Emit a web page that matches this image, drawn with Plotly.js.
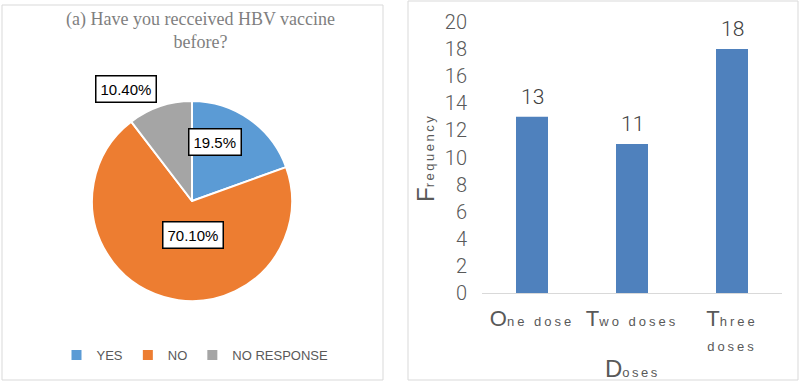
<!DOCTYPE html>
<html><head><meta charset="utf-8">
<script src="https://cdn.plot.ly/plotly-3.0.1.min.js"></script>
<style>html,body{margin:0;padding:0;background:#fff}#c{width:800px;height:382px}</style>
</head><body><div id="c"></div>
<script>
// Pie data
const pieLabels = ['YES', 'NO', 'NO RESPONSE'];
const pieValues = [19.5, 70.1, 10.4];
const pieTexts = ['19.5%', '70.10%', '10.40%'];
const pieColors = ['#5B9BD5', '#ED7D31', '#A5A5A5'];
// Bar data
const doseCats = ['One dose', 'Two doses', 'Three doses'];
const doseTickText = [
  "<span style='font-size:22px'>O</span><span style='font-size:13px;letter-spacing:3px'>ne dose</span>",
  "<span style='font-size:22px'>T</span><span style='font-size:13px;letter-spacing:3px'>wo doses</span>",
  "<span style='font-size:22px'>T</span><span style='font-size:13px;letter-spacing:3px'>hree</span><br><span style='font-size:13px;letter-spacing:3px'>doses</span>"
];
const doseFreq = [13, 11, 18];

const W = 800, H = 382;
const px = x => x / W;
const py = y => 1 - y / H;

const traces = [
  {
    type: 'pie', labels: pieLabels, values: pieValues,
    marker: {colors: pieColors, line: {color: '#fff', width: 2}},
    textinfo: 'none', sort: false, direction: 'clockwise', rotation: 0,
    domain: {x: [px(92), px(292)], y: [py(301), py(101)]},
    hoverinfo: 'label+percent', showlegend: true
  },
  {
    type: 'bar', x: doseCats, y: doseFreq, xaxis: 'x', yaxis: 'y',
    marker: {color: '#4F81BD'}, width: 0.32,
    showlegend: false
  }
];

const annFont = {family: 'Liberation Sans, Arial, sans-serif', size: 15, color: '#000'};
const boxAnn = (t, x, y) => ({
  text: t, x: px(x), y: py(y), xref: 'paper', yref: 'paper', showarrow: false,
  font: annFont, bordercolor: '#000', borderwidth: 1.5, borderpad: 4, bgcolor: '#fff',
  xanchor: 'center', yanchor: 'middle'
});

const barLabels = doseCats.map((c, i) => ({
  text: String(doseFreq[i]), x: c, y: doseFreq[i], xref: 'x', yref: 'y',
  showarrow: false, xanchor: 'center', yanchor: 'bottom', yshift: 6,
  font: {family: 'Roboto, Liberation Sans, sans-serif', size: 21, color: '#404040', weight: 300}
}));

const layout = {
  width: W, height: H, margin: {l: 0, r: 0, t: 0, b: 0},
  paper_bgcolor: '#fff', plot_bgcolor: 'rgba(0,0,0,0)',
  showlegend: true,
  legend: {
    orientation: 'h', x: px(195), xanchor: 'center', y: py(355), yanchor: 'middle',
    font: {family: 'Liberation Sans, Arial, sans-serif', size: 13, color: '#595959'},
    itemwidth: 30
  },
  xaxis: {
    domain: [px(482), px(782)], type: 'category',
    tickvals: doseCats, ticktext: doseTickText,
    tickfont: {family: 'Liberation Sans, Arial, sans-serif', size: 19, color: '#595959', weight: 300},
    showline: true, linecolor: '#D9D9D9', linewidth: 1, ticks: '', showgrid: false,
    ticklabelstandoff: 9, fixedrange: true
  },
  yaxis: {
    domain: [py(293), py(22)], range: [0, 20], dtick: 2, tick0: 0,
    showgrid: false, zeroline: false, showline: false, ticks: '',
    tickfont: {family: 'Roboto, Liberation Sans, sans-serif', size: 20, color: '#595959', weight: 300},
    ticklabelstandoff: 14, fixedrange: true
  },
  shapes: [
    {type: 'rect', xref: 'paper', yref: 'paper', x0: px(2), x1: px(383), y0: py(380), y1: py(5),
     line: {color: '#D9D9D9', width: 1}},
    {type: 'rect', xref: 'paper', yref: 'paper', x0: px(408), x1: px(798), y0: py(380), y1: py(1),
     line: {color: '#D9D9D9', width: 1}}
  ],
  annotations: [
    {text: '(a) Have you recceived HBV vaccine<br>before?', x: px(200), y: py(30), xref: 'paper', yref: 'paper',
     showarrow: false, xanchor: 'center', yanchor: 'middle',
     font: {family: 'Liberation Serif, Times New Roman, serif', size: 18, color: '#7F7F7F'}},
    boxAnn(pieTexts[0], 215, 142),
    boxAnn(pieTexts[1], 193, 235),
    boxAnn(pieTexts[2], 126, 89),
    {text: "<span style='font-size:24px'>F</span><span style='letter-spacing:2.5px'>requency</span>",
     x: px(425), y: py(158), xref: 'paper', yref: 'paper', showarrow: false, textangle: -90,
     xanchor: 'center', yanchor: 'middle',
     font: {family: 'Liberation Sans, Arial, sans-serif', size: 13, color: '#595959'}},
    {text: "<span style='font-size:24px'>D</span><span style='letter-spacing:2.5px'>oses</span>",
     x: px(632), y: py(368), xref: 'paper', yref: 'paper', showarrow: false,
     xanchor: 'center', yanchor: 'middle',
     font: {family: 'Liberation Sans, Arial, sans-serif', size: 13, color: '#595959'}}
  ].concat(barLabels)
};

Plotly.newPlot('c', traces, layout, {displayModeBar: false, staticPlot: true});
</script></body></html>
